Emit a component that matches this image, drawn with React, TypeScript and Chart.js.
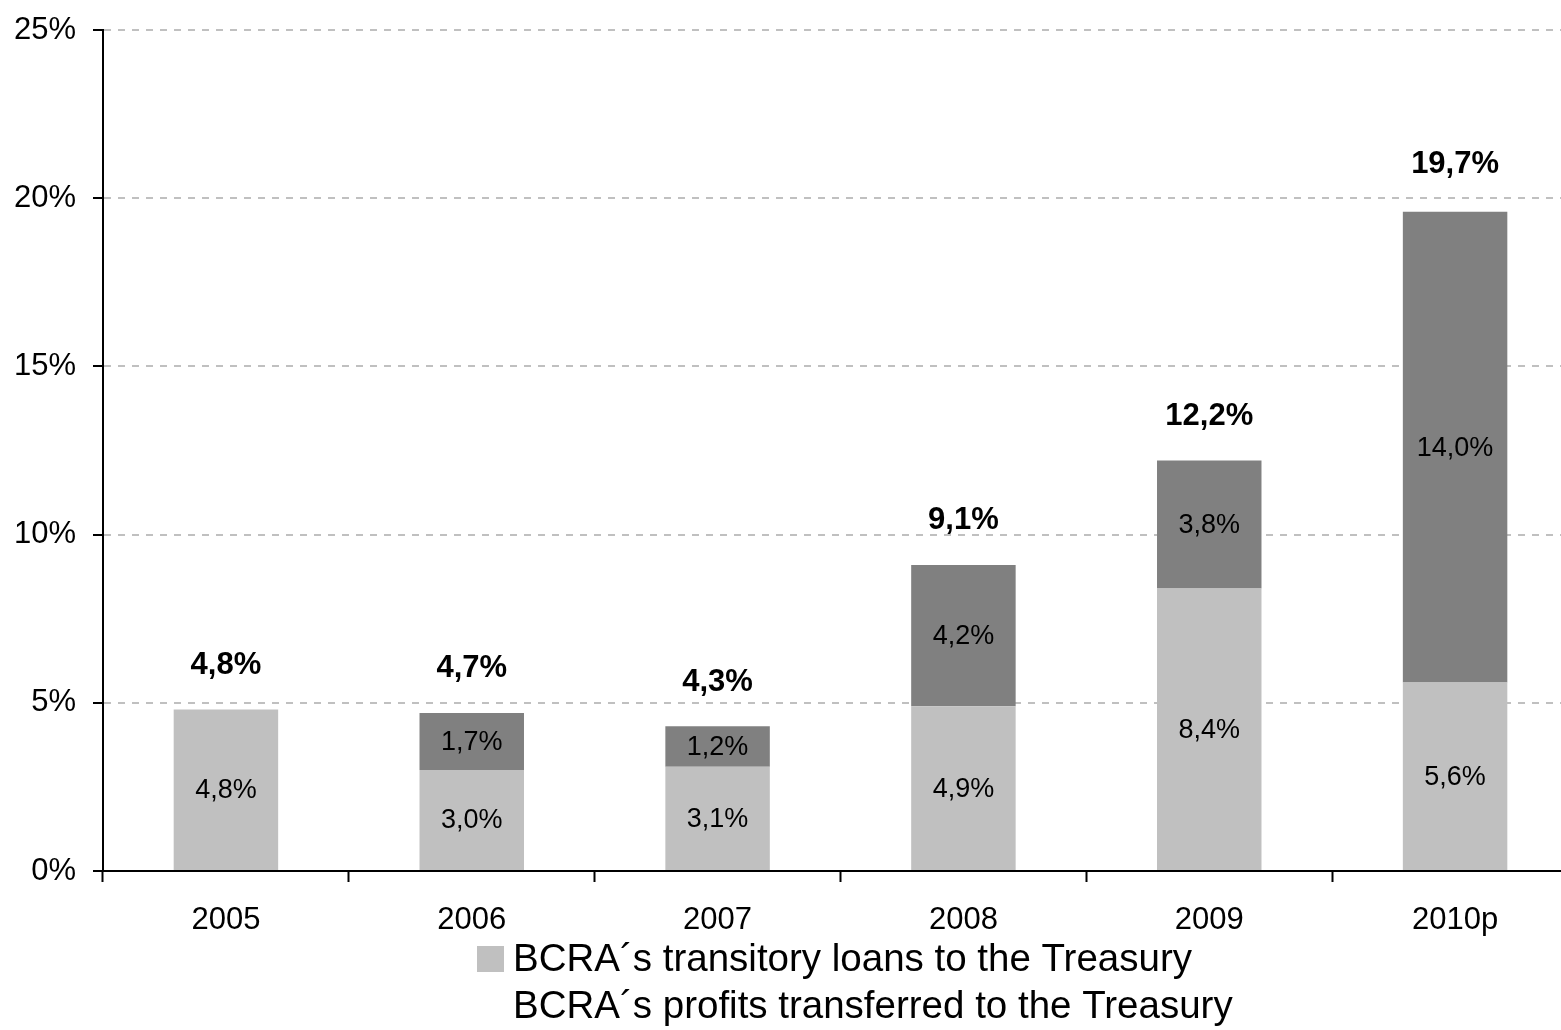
import React, { useEffect, useRef } from "react";
import { Chart, registerables } from "chart.js";

Chart.register(...registerables);

const categories = ["2005", "2006", "2007", "2008", "2009", "2010p"];
const loans = [4.8, 3.0, 3.1, 4.9, 8.4, 5.6];
const profits = [0, 1.7, 1.2, 4.2, 3.8, 14.0];
const totals = [4.8, 4.7, 4.3, 9.1, 12.2, 19.7];
const yTicks = [0, 5, 10, 15, 20, 25];
const seriesNames = [
  "BCRA´s transitory loans to the Treasury",
  "BCRA´s profits transferred to the Treasury",
];

const LIGHT = "#C0C0C0";
const DARK = "#808080";
const FONT = 'Arial, "Liberation Sans", Helvetica, sans-serif';

const fmt = (v: number) => v.toFixed(1).replace(".", ",") + "%";

const labelsPlugin = {
  id: "barLabels",
  afterDatasetsDraw(chart: any) {
    const ctx = chart.ctx;
    ctx.save();
    ctx.fillStyle = "#000";
    ctx.textAlign = "center";
    ctx.textBaseline = "middle";
    ctx.font = `27px ${FONT}`;
    chart.data.datasets.forEach((ds: any, di: number) => {
      const meta = chart.getDatasetMeta(di);
      meta.data.forEach((bar: any, i: number) => {
        const v = ds.data[i];
        if (!v) return;
        const { x, y, base } = bar.getProps(["x", "y", "base"], true);
        ctx.fillText(fmt(v), x, (y + base) / 2 + 1);
      });
    });
    ctx.font = `bold 31px ${FONT}`;
    const xs = chart.scales.x;
    const ys = chart.scales.y;
    totals.forEach((t, i) => {
      ctx.fillText(fmt(t), xs.getPixelForValue(i), ys.getPixelForValue(t) - 44);
    });
    ctx.restore();
  },
};

const legendPlugin = {
  id: "customLegend",
  afterDraw(chart: any) {
    const ctx = chart.ctx;
    const area = chart.chartArea;
    ctx.save();
    ctx.font = `38.5px ${FONT}`;
    ctx.textAlign = "left";
    ctx.textBaseline = "alphabetic";
    const boxW = 27;
    const gap = 9;
    const w = ctx.measureText(seriesNames[0]).width;
    const total = boxW + gap + w;
    const startX = (area.left + area.right) / 2 - total / 2 - 6;
    const base1 = area.bottom + 100;
    const base2 = area.bottom + 147;
    ctx.fillStyle = LIGHT;
    ctx.fillRect(startX, base1 - 25, boxW, 26);
    ctx.fillStyle = "#000";
    ctx.fillText(seriesNames[0], startX + boxW + gap, base1);
    ctx.fillText(seriesNames[1], startX + boxW + gap, base2);
    ctx.restore();
  },
};

export default function App() {
  const ref = useRef<HTMLCanvasElement | null>(null);

  useEffect(() => {
    document.body.style.margin = "0";
    const canvas = ref.current;
    if (!canvas) return;
    const chart = new Chart(canvas, {
      type: "bar",
      data: {
        labels: categories,
        datasets: [
          {
            label: seriesNames[0],
            data: loans,
            backgroundColor: LIGHT,
            borderWidth: 0,
            categoryPercentage: 1,
            barPercentage: 0.425,
          },
          {
            label: seriesNames[1],
            data: profits,
            backgroundColor: DARK,
            borderWidth: 0,
            categoryPercentage: 1,
            barPercentage: 0.425,
          },
        ],
      },
      options: {
        responsive: false,
        animation: false,
        devicePixelRatio: 1,
        layout: { padding: { top: 30, left: 0, right: 0, bottom: 0 } },
        plugins: {
          legend: { display: false },
          tooltip: { enabled: false },
          title: { display: false },
        },
        scales: {
          x: {
            stacked: true,
            grid: {
              display: true,
              drawOnChartArea: false,
              drawTicks: true,
              offset: true,
              tickLength: 11,
              tickColor: "#000",
              tickWidth: 2,
              color: "#000",
            },
            border: { display: true, color: "#000", width: 2 },
            ticks: {
              color: "#000",
              font: { family: FONT, size: 31 },
              padding: 20,
              maxRotation: 0,
            },
            afterFit: (scale: any) => {
              scale.height = 159;
              scale.paddingLeft = 0;
              scale.paddingRight = 0;
            },
          },
          y: {
            stacked: true,
            min: 0,
            max: 25,
            afterBuildTicks: (scale: any) => {
              scale.ticks = yTicks.map((v) => ({ value: v }));
            },
            grid: {
              color: (c: any) => (c.tick && c.tick.value === 0 ? "rgba(0,0,0,0)" : LIGHT),
              lineWidth: 2,
              drawTicks: true,
              tickLength: 10,
              tickColor: "#000",
              tickWidth: 2,
              tickBorderDash: [],
            },
            border: { display: true, color: "#000", width: 2, dash: [7, 7] },
            ticks: {
              color: "#000",
              font: { family: FONT, size: 31 },
              padding: 17,
              callback: (v: any) => v + "%",
            },
            afterFit: (scale: any) => {
              scale.width = 103;
              scale.paddingTop = 0;
              scale.paddingBottom = 0;
            },
          },
        },
      },
      plugins: [labelsPlugin, legendPlugin],
    });
    return () => chart.destroy();
  }, []);

  return (
    <div style={{ width: 1561, height: 1030, overflow: "hidden", position: "relative", background: "#fff" }}>
      <canvas ref={ref} width={1578} height={1030} style={{ width: 1578, height: 1030, display: "block" }} />
    </div>
  );
}
